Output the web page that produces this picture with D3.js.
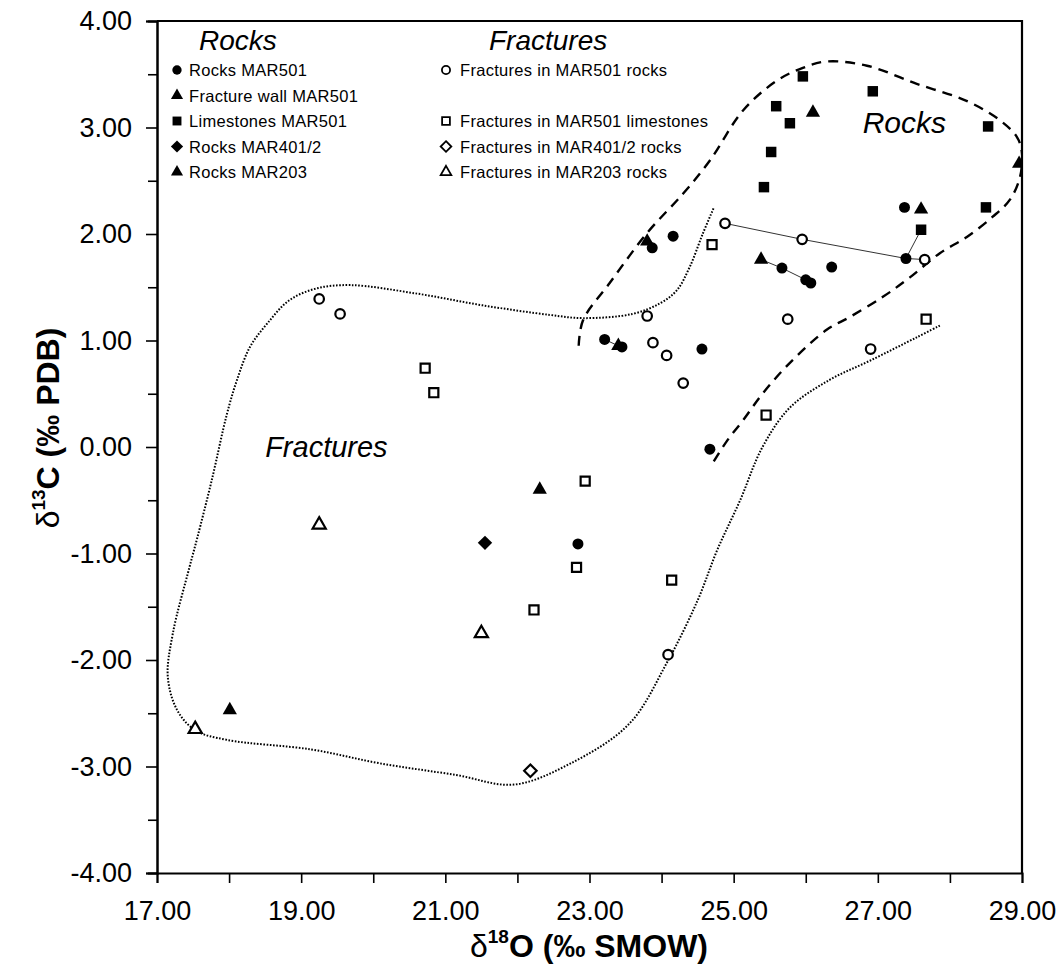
<!DOCTYPE html>
<html>
<head>
<meta charset="utf-8">
<script src="https://cdn.jsdelivr.net/npm/d3@7/dist/d3.min.js"></script>
<style>
body { margin: 0; background: #fff; }
text { font-family: "Liberation Sans", Arial, sans-serif; fill: #000; }
</style>
</head>
<body>
<div id="chart"></div>
<script>
// rocks (filled symbols)
var rocksMAR501 = [[23.87,1.87],[24.16,1.98],[27.37,2.25],[27.39,1.77],[25.67,1.68],[26.00,1.57],
    [26.07,1.54],[26.36,1.69],[23.21,1.01],[23.45,0.94],[24.56,0.92],[24.67,-0.02],[22.84,-0.91]];
var fractureWallMAR501 = [[26.10,3.14],[27.60,2.23],[28.96,2.66],[23.80,1.93],[25.38,1.76],[23.40,0.95]];
var limestonesMAR501 = [[25.96,3.48],[26.93,3.34],[25.59,3.20],[25.78,3.04],[25.52,2.77],[25.42,2.44],
    [28.53,3.01],[28.50,2.25],[27.60,2.04]];
var rocksMAR401 = [[21.55,-0.90]];
var rocksMAR203 = [[22.31,-0.40],[18.01,-2.47]];

// fractures (open symbols)
var fracRocksMAR501 = [[24.88,2.10],[25.95,1.95],[27.65,1.76],[23.80,1.23],[23.88,0.98],[24.07,0.86],
    [24.30,0.60],[25.75,1.20],[26.90,0.92],[19.25,1.39],[19.54,1.25],[24.09,-1.95]];
var fracLimestonesMAR501 = [[24.70,1.90],[27.67,1.20],[25.45,0.30],[22.94,-0.32],[20.72,0.74],[20.84,0.51],
    [22.82,-1.13],[24.14,-1.25],[22.23,-1.53]];
var fracRocksMAR401 = [[22.18,-3.04]];
var fracRocksMAR203 = [[19.25,-0.73],[21.50,-1.75],[17.53,-2.65]];

// thin tie lines between paired samples
var tieLines = [
    [[24.88,2.10],[25.95,1.95],[27.39,1.77],[27.65,1.76]],
    [[27.39,1.77],[27.60,2.04]],
    [[25.38,1.76],[25.67,1.68],[26.00,1.57]],
    [[23.21,1.01],[23.40,0.95]]
];

// envelopes
var fracturesEnvelope = [[24.72,2.24],[24.57,2.00],[24.39,1.69],[24.21,1.47],[23.98,1.35],[23.60,1.25],
    [22.91,1.21],[22.45,1.24],[21.52,1.33],[20.61,1.44],[19.68,1.52],[19.22,1.49],[18.84,1.38],
    [18.53,1.16],[18.29,0.94],[18.11,0.63],[17.97,0.31],[17.76,-0.31],[17.56,-0.85],
    [17.45,-1.13],[17.22,-1.75],[17.15,-2.16],[17.28,-2.47],[17.53,-2.66],[17.97,-2.75],[19.14,-2.84],
    [20.09,-2.97],[21.15,-3.08],[21.95,-3.17],[22.74,-2.97],[23.55,-2.60],[24.07,-2.03],[24.50,-1.44],
    [24.77,-0.97],[25.09,-0.50],[25.40,0.00],[25.78,0.37],[26.33,0.63],[26.89,0.81],[27.54,1.03],
    [27.86,1.14]];
var rocksEnvelope = [[22.85,0.95],[22.91,1.19],[23.28,1.54],[23.80,2.01],[24.30,2.38],[24.67,2.69],
    [25.13,3.16],[25.60,3.44],[25.96,3.56],[26.29,3.62],[26.85,3.58],[27.54,3.41],[28.23,3.25],
    [28.69,3.07],[28.93,2.91],[29.00,2.76],[28.97,2.53],[28.83,2.32],[28.59,2.16],[28.23,1.97],
    [27.86,1.82],[27.44,1.59],[27.07,1.41],[26.61,1.22],[26.29,1.10],[25.78,0.79],[25.40,0.50],
    [25.13,0.25],[24.91,0.06],[24.70,-0.16]];

var xTicks = [17,19,21,23,25,27,29];
var xMinor = [17,18,19,20,21,22,23,24,25,26,27,28,29];
var yTicks = [-4,-3,-2,-1,0,1,2,3,4];
var yMinor = [-3.5,-2.5,-1.5,-0.5,0.5,1.5,2.5,3.5];

var series = [
    {name: "Rocks MAR501",                 data: rocksMAR501,         shape: "circle",   open: false, col: 0, row: 0},
    {name: "Fracture wall MAR501",         data: fractureWallMAR501,  shape: "triangle", open: false, col: 0, row: 1},
    {name: "Limestones MAR501",            data: limestonesMAR501,    shape: "square",   open: false, col: 0, row: 2},
    {name: "Rocks MAR401/2",               data: rocksMAR401,         shape: "diamond",  open: false, col: 0, row: 3},
    {name: "Rocks MAR203",                 data: rocksMAR203,         shape: "triangle", open: false, col: 0, row: 4},
    {name: "Fractures in MAR501 rocks",      data: fracRocksMAR501,     shape: "circle",   open: true,  col: 1, row: 0},
    {name: "Fractures in MAR501 limestones", data: fracLimestonesMAR501, shape: "square", open: true,  col: 1, row: 2},
    {name: "Fractures in MAR401/2 rocks",    data: fracRocksMAR401,     shape: "diamond",  open: true,  col: 1, row: 3},
    {name: "Fractures in MAR203 rocks",      data: fracRocksMAR203,     shape: "triangle", open: true,  col: 1, row: 4}
];

var margin = {top: 21, right: 38, bottom: 97, left: 157},
    width = 1060 - margin.left - margin.right,
    height = 970 - margin.top - margin.bottom;

var x = d3.scaleLinear().domain([17, 29]).range([0, width]);
var y = d3.scaleLinear().domain([-4, 4]).range([height, 0]);

var svg = d3.select("#chart").append("svg")
    .attr("width", 1060)
    .attr("height", 970)
    .append("g")
    .attr("transform", "translate(" + margin.left + "," + margin.top + ")");

svg.append("defs").append("clipPath")
    .attr("id", "plotClip")
    .append("rect")
    .attr("x", 0).attr("y", -2)
    .attr("width", width).attr("height", height + 2);

// marker path generator, scale k for legend
function markerPath(shape, k) {
    k = k || 1;
    if (shape == "circle")   return d3.symbol().type(d3.symbolCircle).size(95 * k)();
    if (shape == "triangle") return d3.symbol().type(d3.symbolTriangle).size(88 * k)();
    if (shape == "square")   return d3.symbol().type(d3.symbolSquare).size(110 * k)();
    // rotated square
    var h = 7.2 * Math.sqrt(k);
    return "M0," + (-h) + "L" + h + ",0L0," + h + "L" + (-h) + ",0Z";
}
function openSize(shape) {
    // open markers are a bit smaller in the figure
    return shape == "triangle" ? 0.85 : 0.75;
}

// axes
var fmt = function(d) { return d.toFixed(2); };

svg.append("g")
    .call(d3.axisLeft(y).tickValues(yTicks).tickFormat(fmt).tickSize(11).tickPadding(14));
svg.append("g")
    .call(d3.axisLeft(y).tickValues(yMinor).tickFormat("").tickSize(9));

svg.append("g")
    .attr("transform", "translate(0," + height + ")")
    .call(d3.axisBottom(x).tickValues(xMinor).tickFormat(function(d) {
        return xTicks.indexOf(d) >= 0 ? fmt(d) : "";
    }).tickSize(10).tickPadding(18));

svg.selectAll(".domain").attr("stroke", "#000").attr("stroke-width", 2);
svg.selectAll(".tick line").attr("stroke", "#000").attr("stroke-width", 1.6);
svg.selectAll(".tick text")
    .style("font-size", "27px")
    .attr("fill", "#000");

// frame top + right
svg.append("path")
    .attr("d", "M0,0H" + width + "V" + height)
    .attr("fill", "none")
    .attr("stroke", "#000")
    .attr("stroke-width", 2.2);

// axis titles
var xt = svg.append("text")
    .attr("x", 432)
    .attr("y", height + 84)
    .attr("text-anchor", "middle")
    .style("font-size", "32px")
    .style("font-weight", "bold");
xt.append("tspan").style("font-weight", "normal").text("δ");
xt.append("tspan").attr("dy", -14).style("font-size", "19px").text("18");
xt.append("tspan").attr("dy", 14).text("O (‰ SMOW)");

var yt = svg.append("text")
    .attr("transform", "translate(-98," + 407 + ") rotate(-90)")
    .attr("text-anchor", "middle")
    .style("font-size", "32px")
    .style("font-weight", "bold");
yt.append("tspan").style("font-weight", "normal").text("δ");
yt.append("tspan").attr("dy", -14).style("font-size", "19px").text("13");
yt.append("tspan").attr("dy", 14).text("C (‰ PDB)");

var plot = svg.append("g").attr("clip-path", "url(#plotClip)");

var line = d3.line()
    .x(function(d) { return x(d[0]); })
    .y(function(d) { return y(d[1]); });

var smooth = d3.line()
    .curve(d3.curveCatmullRom.alpha(0.5))
    .x(function(d) { return x(d[0]); })
    .y(function(d) { return y(d[1]); });

plot.append("path")
    .attr("d", smooth(fracturesEnvelope))
    .attr("fill", "none")
    .attr("stroke", "#000")
    .attr("stroke-width", 2)
    .attr("stroke-dasharray", "1.6,1.6");

plot.append("path")
    .attr("d", smooth(rocksEnvelope))
    .attr("fill", "none")
    .attr("stroke", "#000")
    .attr("stroke-width", 2.4)
    .attr("stroke-dasharray", "10,7");

plot.selectAll(".tie")
    .data(tieLines)
    .enter()
    .append("path")
    .attr("class", "tie")
    .attr("d", line)
    .attr("fill", "none")
    .attr("stroke", "#333")
    .attr("stroke-width", 1);

// markers: open first, filled on top
series.slice().sort(function(a, b) { return b.open - a.open; }).forEach(function(s) {
    plot.selectAll(null)
        .data(s.data)
        .enter()
        .append("path")
        .attr("transform", function(d) { return "translate(" + x(d[0]) + "," + y(d[1]) + ")"; })
        .attr("d", markerPath(s.shape, s.open ? openSize(s.shape) : 1))
        .attr("fill", s.open ? "#fff" : "#000")
        .attr("stroke", "#000")
        .attr("stroke-width", s.open ? 2.2 : 0);
});

// in-plot labels
svg.append("text")
    .attr("x", x(26.79)).attr("y", y(2.95))
    .style("font-size", "30px").style("font-style", "italic")
    .text("Rocks");

svg.append("text")
    .attr("x", x(18.50)).attr("y", y(-0.09))
    .style("font-size", "29px").style("font-style", "italic")
    .text("Fractures");

// legend
var legend = svg.append("g");
var colX = [20, 289], textDx = [12, 14], rowY0 = 49, rowH = 25.5;

legend.append("text").attr("x", 42).attr("y", 29)
    .style("font-size", "28px").style("font-style", "italic").text("Rocks");
legend.append("text").attr("x", 332).attr("y", 29)
    .style("font-size", "28px").style("font-style", "italic").text("Fractures");

var items = legend.selectAll(".item")
    .data(series)
    .enter()
    .append("g")
    .attr("class", "item")
    .attr("transform", function(d) { return "translate(" + colX[d.col] + "," + (rowY0 + d.row * rowH) + ")"; });

items.append("path")
    .attr("d", function(d) { return markerPath(d.shape, d.open ? 0.55 : 0.72); })
    .attr("fill", function(d) { return d.open ? "#fff" : "#000"; })
    .attr("stroke", "#000")
    .attr("stroke-width", function(d) { return d.open ? 1.8 : 0; });

items.append("text")
    .attr("x", function(d) { return textDx[d.col]; })
    .attr("y", 6)
    .style("font-size", "16.5px")
    .style("letter-spacing", "0.3px")
    .text(function(d) { return d.name; });
</script>
</body>
</html>
